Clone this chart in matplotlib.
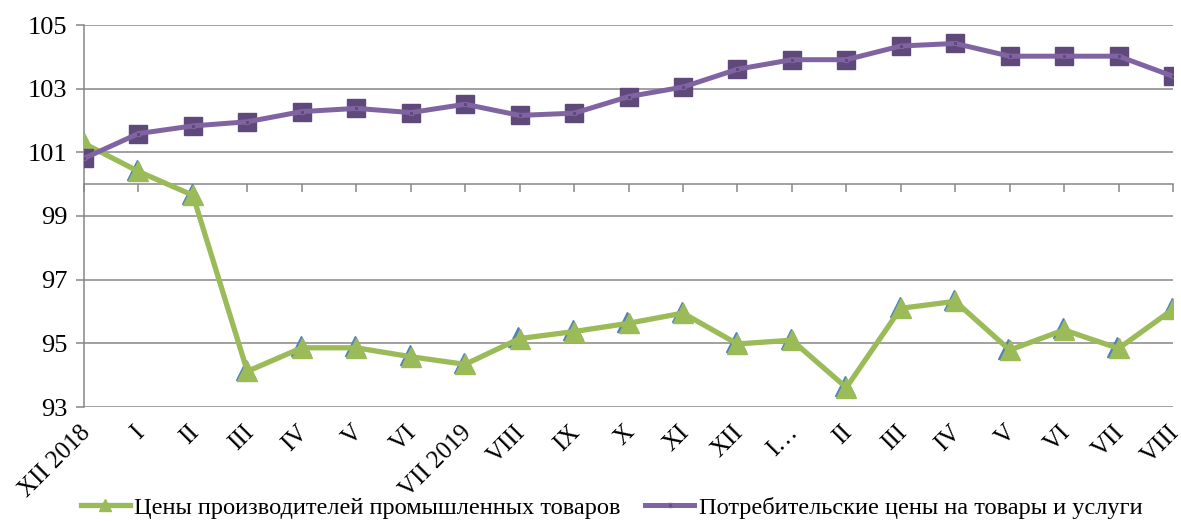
import matplotlib.pyplot as plt
import numpy as np
from matplotlib.transforms import ScaledTranslation
from matplotlib.lines import Line2D

plt.rcParams['font.family'] = ['Liberation Serif', 'DejaVu Serif']

months = ["XII 2018", "I", "II", "III", "IV", "V", "VI", "VII 2019", "VIII", "IX", "X", "XI",
          "XII", "I…", "II", "III", "IV", "V", "VI", "VII", "VIII"]
ppi = [101.28, 100.40, 99.65, 94.12, 94.86, 94.86, 94.58, 94.34, 95.15, 95.37, 95.63, 95.95,
       94.98, 95.10, 93.61, 96.10, 96.32, 94.79, 95.42, 94.84, 96.07]
cpi = [100.81, 101.59, 101.83, 101.96, 102.28, 102.38, 102.25, 102.51, 102.16, 102.23, 102.75, 103.05,
       103.61, 103.91, 103.91, 104.34, 104.42, 104.02, 104.02, 104.02, 103.39]
ppi_name = "Цены производителей промышленных товаров"
cpi_name = "Потребительские цены на товары и услуги"

green = "#9BBB59"
blue = "#4F81BD"
purple = "#8064A2"
dark_purple = "#5F497A"
grid_col = "#868686"

fig = plt.figure(figsize=(11.81, 5.22), dpi=100)
ax = fig.add_axes([84 / 1181, 115 / 522, 1089 / 1181, 382 / 522])

x = np.arange(len(months))

# green series: blue "shadow" triangles a bit up-left, then green on top
shift = ScaledTranslation(-1.2 / 100, 1.5 / 100, fig.dpi_scale_trans)
ax.plot(x, ppi, linestyle="none", marker="^", markersize=14, color=blue,
        transform=ax.transData + shift, zorder=3)
ax.plot(x, ppi, color=green, lw=3.8, marker="^", markersize=14,
        markerfacecolor=green, markeredgecolor=green, zorder=4)

# purple series: big dark squares, line over them, small squares in the middle
ax.plot(x, cpi, linestyle="none", marker="s", markersize=13,
        color=dark_purple, zorder=5)
ax.plot(x, cpi, color=purple, lw=3.6, zorder=6)
ax.plot(x, cpi, linestyle="none", marker="s", markersize=3.5,
        markerfacecolor=dark_purple, markeredgecolor=purple, mew=0.8, zorder=7)

ax.set_xlim(0, 20)
ax.set_ylim(93, 105)
ax.set_yticks(np.arange(93, 106, 2))
ax.set_axisbelow(True)
ax.yaxis.grid(True, color=grid_col, lw=1.1)

for s in ["top", "right", "bottom"]:
    ax.spines[s].set_visible(False)
ax.spines["left"].set_color(grid_col)
ax.spines["left"].set_linewidth(1.1)

ax.tick_params(axis="y", direction="out", length=6, width=1.1, color=grid_col,
               pad=6, labelsize=19)
ax.set_xticks(x)
ax.set_xticklabels(months, rotation=45, ha="right", va="top",
                   rotation_mode="anchor", fontsize=18)
ax.tick_params(axis="x", length=0, pad=10.5)
for lbl in ax.get_xticklabels():
    lbl.set_transform(lbl.get_transform() + ScaledTranslation(-5 / 100, 0, fig.dpi_scale_trans))

# category axis crosses at 100
sec = ax.secondary_xaxis((100 - 93) / 12)
sec.set_alignment("bottom")
sec.set_xticks(x)
sec.set_xticklabels([])
sec.tick_params(direction="out", length=6, width=1.1, color=grid_col)
sec.spines["bottom"].set_color(grid_col)
sec.spines["bottom"].set_linewidth(1.1)

handles = [
    Line2D([], [], color=green, lw=3.8, marker="^", markersize=9),
    Line2D([], [], color=purple, lw=3.6, marker="s", markersize=3.5,
           markerfacecolor=dark_purple, markeredgecolor=purple),
]
fig.legend(handles, [ppi_name, cpi_name], loc="center", ncol=2,
           bbox_to_anchor=(0.518, 0.027), frameon=False, fontsize=17.6,
           handlelength=2.0, handletextpad=0.2, columnspacing=1.0)

fig.savefig("out.png", dpi=100)
